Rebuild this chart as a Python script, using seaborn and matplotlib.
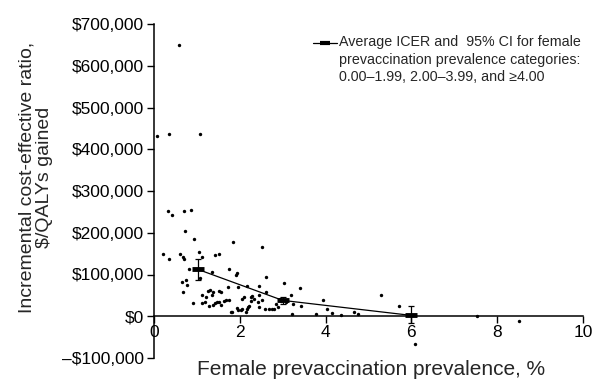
import numpy as np
import pandas as pd
import matplotlib
matplotlib.use("Agg")
import matplotlib.pyplot as plt
import seaborn as sns

# individual model runs: prevalence (%) and ICER ($/QALY)
prev = [0.58, 0.07, 0.35, 1.07, 0.33, 0.42, 0.70, 0.86, 0.72, 0.93,
        1.84, 2.52, 0.21, 0.35, 0.61, 0.68, 0.70, 1.05, 1.12, 1.42,
        1.52, 1.75, 1.91, 1.93, 1.35, 0.82, 1.07, 0.65, 0.75, 0.77,
        0.68, 1.26, 1.31, 1.38, 1.52, 1.56, 1.72, 1.12, 1.21, 1.35,
        1.12, 0.91, 1.19, 1.28, 1.38, 1.42, 1.47, 1.52, 1.56, 1.63,
        1.68, 1.75, 1.79, 1.93, 1.96, 2.03, 2.05, 1.96, 2.05, 2.10,
        2.14, 2.17, 2.19, 2.21, 2.26, 2.28, 2.26, 2.17, 2.33, 2.45,
        2.45, 2.42, 2.45, 2.61, 2.61, 2.52, 2.59, 2.68, 2.75, 2.80,
        2.84, 2.89, 2.94, 3.03, 3.19, 3.24, 3.40, 3.43, 3.22, 3.78,
        3.94, 4.03, 4.15, 4.36, 4.66, 4.76, 5.29, 5.71, 7.53, 8.50,
        6.08, 2.96, 3.08, 1.82]
icer = [650000, 432000, 437000, 437000, 251000, 243000, 253000, 255000, 205000, 184000,
        179000, 167000, 150000, 136000, 148000, 141000, 138000, 153000, 143000, 146000,
        150000, 112000, 100000, 103000, 107000, 112000, 91000, 81000, 86000, 76000,
        57000, 60000, 64000, 57000, 60000, 57000, 69000, 52000, 45000, 50000,
        31000, 31000, 33000, 24000, 26000, 31000, 33000, 33000, 26000, 36000,
        38000, 38000, 10000, 19000, 14000, 14000, 17000, 69000, 41000, 45000,
        10000, 17000, 21000, 24000, 45000, 48000, 36000, 72000, 41000, 72000,
        50000, 33000, 21000, 57000, 95000, 38000, 17000, 17000, 17000, 17000,
        29000, 21000, 41000, 79000, 52000, 29000, 67000, 24000, 5000, 5000,
        38000, 17000, 7000, 2000, 10000, 5000, 52000, 24000, 0, -12000,
        -67000, 36000, 33000, 10000]

# category averages and 95% CI
cat_x = [1.03, 3.0, 6.0]
cat_mean = [112000, 38000, 2000]
cat_lo = [86000, 29000, -17000]
cat_hi = [138000, 45000, 24000]

yticks = [-100000, 0, 100000, 200000, 300000, 400000, 500000, 600000, 700000]
ytick_labels = ["\u2013$100,000", "$0", "$100,000", "$200,000", "$300,000",
                "$400,000", "$500,000", "$600,000", "$700,000"]
xticks = [0, 2, 4, 6, 8, 10]

sns.set_style("ticks")
plt.rcParams['font.family'] = ['Liberation Sans', 'DejaVu Sans']

df = pd.DataFrame({"prev": prev, "icer": icer})
cats = pd.DataFrame({"x": cat_x, "mean": cat_mean})

fig = plt.figure(figsize=(6, 3.9), dpi=100)
ax = fig.add_axes([154 / 600, 1 - 358 / 390, 429 / 600, 334 / 390])

sns.scatterplot(data=df, x="prev", y="icer", ax=ax, color="black", s=6,
                linewidth=0, legend=False, zorder=3)
sns.lineplot(data=cats, x="x", y="mean", ax=ax, color="black", lw=0.9,
             legend=False, zorder=4)
err = [np.array(cat_mean) - np.array(cat_lo), np.array(cat_hi) - np.array(cat_mean)]
ax.errorbar(cat_x, cat_mean, yerr=err, fmt="none", ecolor="black",
            elinewidth=0.9, capsize=2, capthick=0.9, zorder=4)
ax.plot(cat_x, cat_mean, ls="none", marker="_", ms=8, mew=3.5,
        color="black", zorder=5)

ax.set_xlim(0, 10)
ax.set_ylim(-100000, 700000)
ax.set_xticks(xticks)
ax.set_yticks(yticks)
ax.set_yticklabels(ytick_labels)
ax.tick_params(axis="both", labelsize=12.5, length=5, width=1, colors="black")
ax.tick_params(axis="y", pad=2)
ax.tick_params(axis="x", pad=1)

ax.spines["top"].set_visible(False)
ax.spines["right"].set_visible(False)
ax.spines["bottom"].set_position(("data", 0))
for s in ["left", "bottom"]:
    ax.spines[s].set_linewidth(1.1)
    ax.spines[s].set_color("black")

ax.set_xlabel("Female prevaccination prevalence, %", fontsize=15)
ax.xaxis.set_label_coords(0.505, -0.005)
ax.set_ylabel("Incremental cost-effective ratio,\n$/QALYs gained", fontsize=14,
              linespacing=1.05)
ax.yaxis.set_label_coords(-0.235, 0.54)

# legend: handle + text
ax.plot([0.371, 0.427], [0.943, 0.943], transform=ax.transAxes, color="black",
        lw=0.9, clip_on=False)
ax.plot([0.399], [0.943], transform=ax.transAxes, color="black", marker="_",
        ms=7, mew=3, clip_on=False)
ax.text(0.431, 0.966, "Average ICER and  95% CI for female\n"
        "prevaccination prevalence categories:\n"
        "0.00\u20131.99, 2.00\u20133.99, and \u22654.00",
        transform=ax.transAxes, ha="left", va="top", fontsize=10.3,
        linespacing=1.3)

fig.savefig("out.png", dpi=100)
